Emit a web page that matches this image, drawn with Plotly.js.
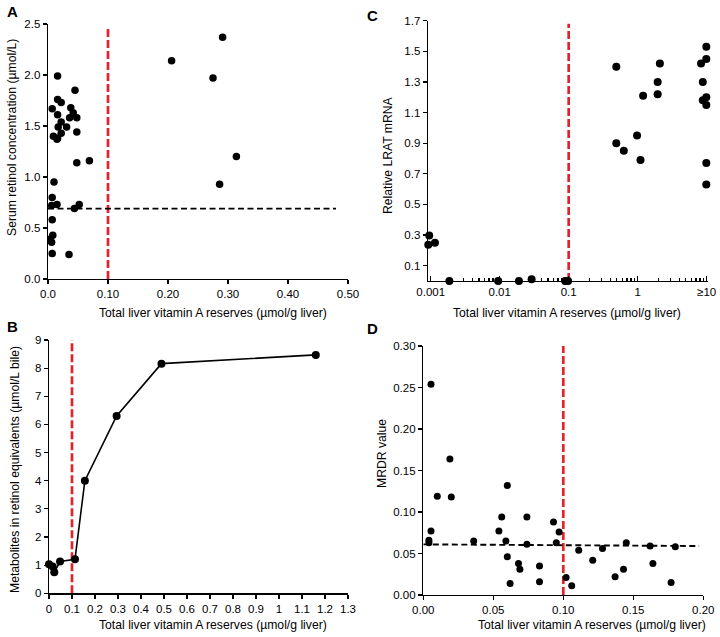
<!DOCTYPE html>
<html>
<head>
<meta charset="utf-8">
<script src="https://cdn.plot.ly/plotly-3.0.1.min.js"></script>
<style>
  html, body { margin: 0; padding: 0; background: #fff; }
  #chart { width: 720px; height: 637px; }
</style>
</head>
<body>
<div id="chart"></div>
<script>
// panel A: liver reserves vs serum retinol
var aReserves = [0.291, 0.206, 0.275, 0.314, 0.286, 0.016, 0.045, 0.016, 0.022, 0.007, 0.038, 0.042,
  0.016, 0.048, 0.036, 0.022, 0.017, 0.031, 0.022, 0.009, 0.016, 0.048, 0.015, 0.048, 0.069,
  0.010, 0.007, 0.006, 0.015, 0.044, 0.052, 0.007, 0.008, 0.003, 0.006, 0.007, 0.035];
var aRetinol = [2.37, 2.14, 1.97, 1.20, 0.93, 1.99, 1.85, 1.76, 1.73, 1.67, 1.68, 1.63,
  1.61, 1.58, 1.58, 1.54, 1.49, 1.49, 1.43, 1.40, 1.38, 1.44, 1.37, 1.14, 1.16,
  0.95, 0.80, 0.72, 0.73, 0.69, 0.73, 0.58, 0.43, 0.39, 0.36, 0.25, 0.24];
var aCutX = [0, 0.48];
var aCutY = [0.69, 0.69];

// panel B: bile metabolites
var bReserves = [0.0, 0.016, 0.023, 0.048, 0.113, 0.156, 0.294, 0.489, 1.16];
var bMetab = [1.03, 0.95, 0.75, 1.13, 1.21, 4.00, 6.30, 8.16, 8.47];

// panel C: LRAT mRNA (log x)
var cReserves = [0.00095, 0.00092, 0.00115, 0.00186, 0.0095, 0.019, 0.029, 0.089, 0.098,
  0.49, 0.49, 0.63, 0.98, 1.1, 1.2, 1.95, 1.95, 2.1,
  8.3, 9.9, 9.9, 8.8, 9.9, 8.8, 9.9, 9.9, 9.9];
var cLrat = [0.297, 0.236, 0.249, 0, 0, 0, 0.011, 0, 0,
  1.40, 0.90, 0.85, 0.95, 0.79, 1.21, 1.30, 1.22, 1.42,
  1.42, 1.53, 1.45, 1.30, 1.20, 1.18, 1.15, 0.77, 0.63];

// panel D: MRDR value
var dReserves = [0.0055, 0.019, 0.010, 0.020, 0.0055, 0.004, 0.004, 0.036, 0.060, 0.056, 0.054, 0.059,
  0.060, 0.068, 0.069, 0.062, 0.074, 0.074, 0.083, 0.083, 0.093, 0.097, 0.095, 0.102,
  0.106, 0.111, 0.121, 0.128, 0.137, 0.143, 0.145, 0.162, 0.164, 0.177, 0.180];
var dMrdr = [0.254, 0.164, 0.119, 0.118, 0.077, 0.066, 0.063, 0.065, 0.132, 0.094, 0.077, 0.065,
  0.046, 0.038, 0.031, 0.014, 0.094, 0.061, 0.035, 0.016, 0.088, 0.076, 0.063, 0.021,
  0.011, 0.054, 0.042, 0.056, 0.022, 0.031, 0.063, 0.059, 0.038, 0.015, 0.058];
var dCutX = [0, 0.197];
var dCutY = [0.061, 0.059];

// vitamin A cutoff (0.1 umol/g)
var cutoff = 0.10;
var aTop = 2.46, bTop = 9.0, cTop = 1.68, dTop = 0.305;

var red = '#e3232c';
var redLine = {color: red, width: 2.7, dash: '8px,3px'};
var blackDash = {color: '#000', width: 1.9, dash: '6px,3.5px'};
var dot = function (s) { return {color: '#000', size: s}; };

var data = [
  {x: [cutoff, cutoff], y: [0, aTop], mode: 'lines', line: redLine, xaxis: 'x', yaxis: 'y'},
  {x: aCutX, y: aCutY, mode: 'lines', line: blackDash, xaxis: 'x', yaxis: 'y'},
  {x: aReserves, y: aRetinol, mode: 'markers', marker: dot(7.5), xaxis: 'x', yaxis: 'y'},

  {x: [cutoff, cutoff], y: [0, cTop], mode: 'lines', line: redLine, xaxis: 'x2', yaxis: 'y2'},
  {x: cReserves, y: cLrat, mode: 'markers', marker: dot(8), xaxis: 'x2', yaxis: 'y2', cliponaxis: false},

  {x: [cutoff, cutoff], y: [0, bTop], mode: 'lines', line: redLine, xaxis: 'x3', yaxis: 'y3'},
  {x: bReserves, y: bMetab, mode: 'lines+markers', line: {color: '#000', width: 1.6},
    marker: dot(8), xaxis: 'x3', yaxis: 'y3', cliponaxis: false},

  {x: [cutoff, cutoff], y: [0, dTop], mode: 'lines', line: redLine, xaxis: 'x4', yaxis: 'y4'},
  {x: dCutX, y: dCutY, mode: 'lines', line: blackDash, xaxis: 'x4', yaxis: 'y4'},
  {x: dReserves, y: dMrdr, mode: 'markers', marker: dot(7), xaxis: 'x4', yaxis: 'y4', cliponaxis: false}
];

var ax = {
  showline: true, linecolor: '#000', linewidth: 1.4, showgrid: false, zeroline: false,
  ticks: 'outside', ticklen: 4, tickcolor: '#000', tickwidth: 1.2,
  tickfont: {size: 11.5, color: '#000'}
};
function axis(extra) { return Object.assign({}, ax, extra); }

var px = function (v) { return v / 720; };
var py = function (v) { return 1 - v / 637; };

function title(text, x, y, rot) {
  return {text: text, xref: 'paper', yref: 'paper', x: px(x), y: py(y), showarrow: false,
    textangle: rot ? -90 : 0, font: {size: 12.2, color: '#000'}, xanchor: 'center', yanchor: 'middle'};
}
function letter(text, x, y) {
  return {text: '<b>' + text + '</b>', xref: 'paper', yref: 'paper', x: px(x), y: py(y),
    showarrow: false, font: {size: 15, color: '#000'}, xanchor: 'left', yanchor: 'middle'};
}

var xLabel = 'Total liver vitamin A reserves (µmol/g liver)';

var layout = {
  width: 720, height: 637,
  margin: {l: 0, r: 0, t: 0, b: 0},
  paper_bgcolor: '#fff', plot_bgcolor: '#fff',
  showlegend: false,
  font: {family: '"Liberation Sans", Arial, sans-serif', color: '#000'},
  xaxis: axis({domain: [px(48), px(348)], range: [0, 0.5], anchor: 'y',
    tickvals: [0, 0.1, 0.2, 0.3, 0.4, 0.5], ticktext: ['0.0', '0.10', '0.20', '0.30', '0.40', '0.50']}),
  yaxis: axis({domain: [py(279), py(24)], range: [0, 2.5], anchor: 'x',
    tickvals: [0, 0.5, 1, 1.5, 2, 2.5], ticktext: ['0.0', '0.5', '1.0', '1.5', '2.0', '2.5']}),
  xaxis2: axis({domain: [px(428), px(708)], type: 'log', range: [-3.04, 1.02], anchor: 'y2',
    ticks: 'inside', ticklen: 5,
    tickvals: [0.001, 0.01, 0.1, 1, 10], ticktext: ['0.001', '0.01', '0.1', '1', '≥10'],
    minor: {ticks: 'inside', ticklen: 3, tickcolor: '#000', dtick: 'D1'}}),
  yaxis2: axis({domain: [py(281), py(20.7)], range: [0, 1.7], anchor: 'x2',
    tickvals: [0.1, 0.3, 0.5, 0.7, 0.9, 1.1, 1.3, 1.5, 1.7]}),
  xaxis3: axis({domain: [px(49), px(348)], range: [0, 1.3], anchor: 'y3', dtick: 0.1, tick0: 0}),
  yaxis3: axis({domain: [py(593.3), py(340)], range: [0, 9], anchor: 'x3', dtick: 1}),
  xaxis4: axis({domain: [px(423.3), px(703.3)], range: [0, 0.2], anchor: 'y4',
    tickvals: [0, 0.05, 0.1, 0.15, 0.2], ticktext: ['0.00', '0.05', '0.10', '0.15', '0.20']}),
  yaxis4: axis({domain: [py(595), py(346)], range: [0, 0.3], anchor: 'x4',
    tickvals: [0, 0.05, 0.1, 0.15, 0.2, 0.25, 0.3],
    ticktext: ['0.00', '0.05', '0.10', '0.15', '0.20', '0.25', '0.30']}),
  annotations: [
    letter('A', 5, 11), letter('C', 365, 15), letter('B', 5, 326), letter('D', 365, 328),
    title(xLabel, 213, 313), title('Serum retinol concentration (µmol/L)', 12, 138, true),
    title(xLabel, 567, 313), title('Relative LRAT mRNA', 388, 155, true),
    title(xLabel, 213, 625), title('Metabolites in retinol equivalents (µmol/L bile)', 15, 470, true),
    title(xLabel, 592, 625), title('MRDR value', 382, 454, true)
  ]
};

Plotly.newPlot('chart', data, layout, {staticPlot: true});
</script>
</body>
</html>
